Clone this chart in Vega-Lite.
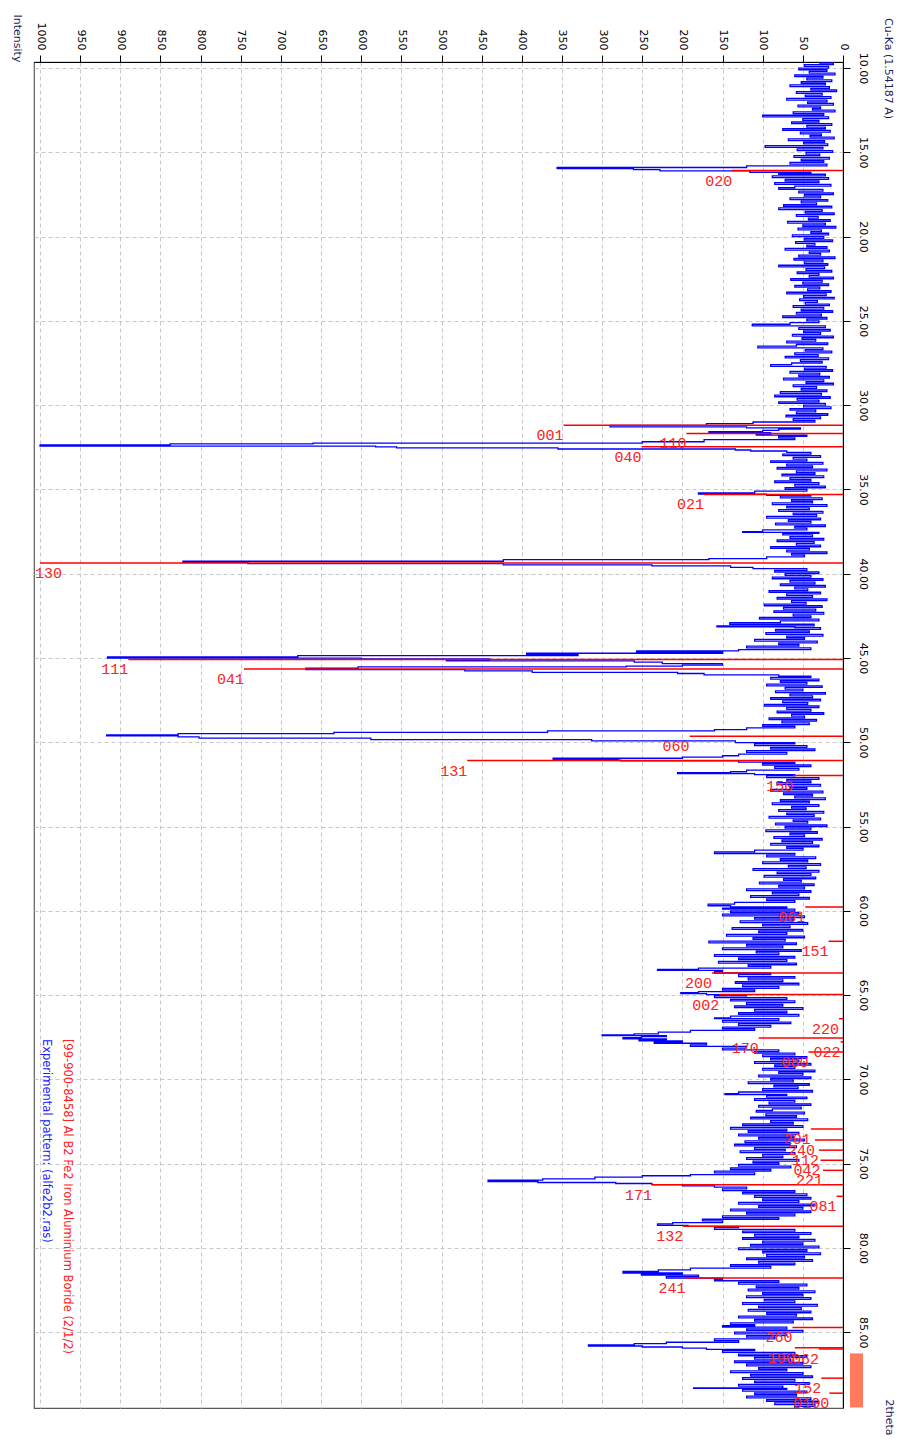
{
  "$schema": "https://vega.github.io/schema/vega-lite/v6.json",
  "width": 809,
  "height": 1346,
  "autosize": {"type": "none"},
  "padding": {"left": 34, "top": 62, "right": 57, "bottom": 31},
  "background": "white",
  "title": {
    "text": "Cu-Ka (1.54187 A)",
    "orient": "right",
    "anchor": "start",
    "angle": 90,
    "align": "left",
    "baseline": "middle",
    "font": "DejaVu Sans",
    "fontSize": 11,
    "fontWeight": "normal",
    "color": "#1c1c5c",
    "offset": 1,
    "dx": 4,
    "dy": 18
  },
  "config": {
    "view": {"stroke": "#5a5a5a", "strokeWidth": 1.2},
    "axis": {
      "labelFont": "DejaVu Sans",
      "labelFontSize": 11,
      "labelColor": "#000000",
      "tickColor": "#000000",
      "domainColor": "#000000",
      "tickSize": 7,
      "gridColor": "#c8c8c8",
      "gridDash": [4, 3],
      "gridWidth": 1,
      "titleFont": "DejaVu Sans",
      "titleFontSize": 11,
      "titleFontWeight": "normal",
      "titleColor": "#1c1c5c",
      "labelOverlap": false,
      "labelFlush": false
    }
  },
  "datasets": {
    "xrd": [
      {"t":9.7,"i":30},{"t":9.8,"i":12},{"t":9.9,"i":48},{"t":10.0,"i":18},{"t":10.1,"i":55},{"t":10.2,"i":20},{"t":10.3,"i":42},{"t":10.4,"i":10},{"t":10.5,"i":60},{"t":10.6,"i":25},
      {"t":10.7,"i":45},{"t":10.8,"i":14},{"t":10.9,"i":52},{"t":11.0,"i":22},{"t":11.1,"i":66},{"t":11.2,"i":17},{"t":11.3,"i":40},{"t":11.4,"i":8},{"t":11.5,"i":58},{"t":11.6,"i":26},
      {"t":11.7,"i":47},{"t":11.8,"i":15},{"t":11.9,"i":70},{"t":12.0,"i":20},{"t":12.1,"i":44},{"t":12.2,"i":12},{"t":12.3,"i":56},{"t":12.4,"i":28},{"t":12.5,"i":38},{"t":12.6,"i":10},
      {"t":12.7,"i":62},{"t":12.8,"i":24},{"t":12.9,"i":100},{"t":13.0,"i":18},{"t":13.1,"i":50},{"t":13.2,"i":30},{"t":13.3,"i":64},{"t":13.4,"i":14},{"t":13.5,"i":45},{"t":13.6,"i":22},
      {"t":13.7,"i":75},{"t":13.8,"i":16},{"t":13.9,"i":53},{"t":14.0,"i":27},{"t":14.1,"i":41},{"t":14.2,"i":11},{"t":14.3,"i":68},{"t":14.4,"i":23},{"t":14.5,"i":49},{"t":14.6,"i":19},
      {"t":14.7,"i":97},{"t":14.8,"i":25},{"t":14.9,"i":57},{"t":15.0,"i":13},{"t":15.1,"i":46},{"t":15.2,"i":29},{"t":15.3,"i":61},{"t":15.4,"i":17},{"t":15.5,"i":52},{"t":15.6,"i":24},
      {"t":15.7,"i":66},{"t":15.8,"i":20},{"t":15.9,"i":120},{"t":15.97,"i":356},{"t":16.03,"i":261},{"t":16.1,"i":228},{"t":16.18,"i":116},{"t":16.25,"i":40},{"t":16.3,"i":80},{"t":16.4,"i":22},
      {"t":16.5,"i":88},{"t":16.6,"i":18},{"t":16.7,"i":72},{"t":16.8,"i":30},{"t":16.9,"i":85},{"t":17.0,"i":15},{"t":17.1,"i":60},{"t":17.2,"i":80},{"t":17.3,"i":25},{"t":17.4,"i":55},
      {"t":17.5,"i":12},{"t":17.6,"i":48},{"t":17.7,"i":28},{"t":17.8,"i":66},{"t":17.9,"i":19},{"t":18.0,"i":52},{"t":18.1,"i":33},{"t":18.2,"i":74},{"t":18.3,"i":14},{"t":18.4,"i":80},
      {"t":18.5,"i":26},{"t":18.6,"i":47},{"t":18.7,"i":11},{"t":18.8,"i":58},{"t":18.9,"i":31},{"t":19.0,"i":43},{"t":19.1,"i":16},{"t":19.2,"i":69},{"t":19.3,"i":22},{"t":19.4,"i":50},
      {"t":19.5,"i":9},{"t":19.6,"i":56},{"t":19.7,"i":27},{"t":19.8,"i":40},{"t":19.9,"i":18},{"t":20.0,"i":63},{"t":20.1,"i":24},{"t":20.2,"i":48},{"t":20.3,"i":13},{"t":20.4,"i":59},
      {"t":20.5,"i":35},{"t":20.6,"i":45},{"t":20.7,"i":20},{"t":20.8,"i":72},{"t":20.9,"i":17},{"t":21.0,"i":42},{"t":21.1,"i":28},{"t":21.2,"i":55},{"t":21.3,"i":10},{"t":21.4,"i":61},
      {"t":21.5,"i":25},{"t":21.6,"i":48},{"t":21.7,"i":19},{"t":21.8,"i":80},{"t":21.9,"i":23},{"t":22.0,"i":46},{"t":22.1,"i":14},{"t":22.2,"i":57},{"t":22.3,"i":30},{"t":22.4,"i":42},
      {"t":22.5,"i":12},{"t":22.6,"i":65},{"t":22.7,"i":26},{"t":22.8,"i":50},{"t":22.9,"i":18},{"t":23.0,"i":60},{"t":23.1,"i":29},{"t":23.2,"i":44},{"t":23.3,"i":15},{"t":23.4,"i":70},
      {"t":23.5,"i":21},{"t":23.6,"i":49},{"t":23.7,"i":11},{"t":23.8,"i":54},{"t":23.9,"i":32},{"t":24.0,"i":47},{"t":24.1,"i":17},{"t":24.2,"i":62},{"t":24.3,"i":24},{"t":24.4,"i":52},
      {"t":24.5,"i":13},{"t":24.6,"i":58},{"t":24.7,"i":27},{"t":24.8,"i":75},{"t":24.9,"i":20},{"t":25.0,"i":45},{"t":25.1,"i":30},{"t":25.2,"i":66},{"t":25.3,"i":113},{"t":25.4,"i":22},
      {"t":25.5,"i":55},{"t":25.6,"i":16},{"t":25.7,"i":49},{"t":25.8,"i":28},{"t":25.9,"i":63},{"t":26.0,"i":12},{"t":26.1,"i":51},{"t":26.2,"i":34},{"t":26.3,"i":70},{"t":26.4,"i":19},
      {"t":26.5,"i":58},{"t":26.6,"i":106},{"t":26.7,"i":25},{"t":26.8,"i":47},{"t":26.9,"i":14},{"t":27.0,"i":60},{"t":27.1,"i":31},{"t":27.2,"i":72},{"t":27.3,"i":18},{"t":27.4,"i":53},
      {"t":27.5,"i":26},{"t":27.6,"i":64},{"t":27.7,"i":90},{"t":27.8,"i":21},{"t":27.9,"i":48},{"t":28.0,"i":13},{"t":28.1,"i":66},{"t":28.2,"i":29},{"t":28.3,"i":55},{"t":28.4,"i":17},
      {"t":28.5,"i":74},{"t":28.6,"i":24},{"t":28.7,"i":46},{"t":28.8,"i":12},{"t":28.9,"i":62},{"t":29.0,"i":33},{"t":29.1,"i":52},{"t":29.2,"i":20},{"t":29.3,"i":78},{"t":29.4,"i":27},
      {"t":29.5,"i":85},{"t":29.6,"i":16},{"t":29.7,"i":57},{"t":29.8,"i":30},{"t":29.9,"i":80},{"t":30.0,"i":22},{"t":30.1,"i":49},{"t":30.2,"i":15},{"t":30.3,"i":66},{"t":30.4,"i":34},
      {"t":30.5,"i":58},{"t":30.6,"i":19},{"t":30.7,"i":71},{"t":30.8,"i":28},{"t":30.9,"i":62},{"t":31.0,"i":35},{"t":31.1,"i":112},{"t":31.2,"i":170},{"t":31.29,"i":290},{"t":31.35,"i":120},
      {"t":31.42,"i":53},{"t":31.5,"i":80},{"t":31.57,"i":100},{"t":31.63,"i":167},{"t":31.7,"i":90},{"t":31.78,"i":108},{"t":31.85,"i":45},{"t":31.95,"i":80},{"t":32.05,"i":60},{"t":32.17,"i":173},
      {"t":32.25,"i":250},{"t":32.3,"i":660},{"t":32.36,"i":838},{"t":32.43,"i":1000},{"t":32.48,"i":582},{"t":32.53,"i":556},{"t":32.6,"i":355},{"t":32.66,"i":134},{"t":32.72,"i":115},{"t":32.8,"i":70},
      {"t":32.9,"i":40},{"t":33.0,"i":75},{"t":33.1,"i":28},{"t":33.2,"i":62},{"t":33.3,"i":45},{"t":33.4,"i":90},{"t":33.5,"i":25},{"t":33.6,"i":70},{"t":33.7,"i":38},{"t":33.8,"i":82},
      {"t":33.9,"i":20},{"t":34.0,"i":58},{"t":34.1,"i":35},{"t":34.2,"i":76},{"t":34.3,"i":24},{"t":34.4,"i":66},{"t":34.5,"i":40},{"t":34.6,"i":85},{"t":34.7,"i":30},{"t":34.8,"i":60},
      {"t":34.9,"i":22},{"t":35.0,"i":72},{"t":35.1,"i":45},{"t":35.2,"i":110},{"t":35.28,"i":180},{"t":35.35,"i":95},{"t":35.4,"i":40},{"t":35.5,"i":78},{"t":35.6,"i":26},{"t":35.7,"i":64},
      {"t":35.8,"i":38},{"t":35.9,"i":88},{"t":36.0,"i":20},{"t":36.1,"i":70},{"t":36.2,"i":42},{"t":36.3,"i":80},{"t":36.4,"i":25},{"t":36.5,"i":62},{"t":36.6,"i":33},{"t":36.7,"i":95},
      {"t":36.8,"i":28},{"t":36.9,"i":68},{"t":37.0,"i":40},{"t":37.1,"i":84},{"t":37.2,"i":22},{"t":37.3,"i":60},{"t":37.4,"i":45},{"t":37.5,"i":100},{"t":37.55,"i":125},{"t":37.6,"i":30},
      {"t":37.7,"i":75},{"t":37.8,"i":38},{"t":37.9,"i":66},{"t":38.0,"i":24},{"t":38.1,"i":82},{"t":38.2,"i":36},{"t":38.3,"i":58},{"t":38.4,"i":28},{"t":38.5,"i":90},{"t":38.6,"i":42},
      {"t":38.7,"i":70},{"t":38.8,"i":20},{"t":38.9,"i":64},{"t":39.0,"i":48},{"t":39.1,"i":95},{"t":39.16,"i":167},{"t":39.26,"i":423},{"t":39.32,"i":822},{"t":39.4,"i":741},{"t":39.48,"i":423},
      {"t":39.54,"i":238},{"t":39.62,"i":140},{"t":39.7,"i":112},{"t":39.8,"i":45},{"t":39.9,"i":85},{"t":40.0,"i":30},{"t":40.1,"i":72},{"t":40.2,"i":40},{"t":40.3,"i":88},{"t":40.4,"i":25},
      {"t":40.5,"i":66},{"t":40.6,"i":35},{"t":40.7,"i":78},{"t":40.8,"i":22},{"t":40.9,"i":60},{"t":41.0,"i":44},{"t":41.1,"i":92},{"t":41.2,"i":28},{"t":41.3,"i":70},{"t":41.4,"i":38},
      {"t":41.5,"i":82},{"t":41.6,"i":20},{"t":41.7,"i":64},{"t":41.8,"i":46},{"t":41.9,"i":98},{"t":42.0,"i":26},{"t":42.1,"i":74},{"t":42.2,"i":34},{"t":42.3,"i":86},{"t":42.4,"i":24},
      {"t":42.5,"i":62},{"t":42.6,"i":40},{"t":42.7,"i":104},{"t":42.8,"i":30},{"t":42.9,"i":78},{"t":43.0,"i":141},{"t":43.1,"i":36},{"t":43.15,"i":157},{"t":43.2,"i":60},{"t":43.3,"i":28},
      {"t":43.4,"i":84},{"t":43.5,"i":42},{"t":43.6,"i":96},{"t":43.7,"i":25},{"t":43.8,"i":70},{"t":43.9,"i":48},{"t":44.0,"i":110},{"t":44.1,"i":32},{"t":44.2,"i":80},{"t":44.3,"i":55},
      {"t":44.4,"i":120},{"t":44.5,"i":40},{"t":44.58,"i":130},{"t":44.66,"i":257},{"t":44.72,"i":150},{"t":44.78,"i":394},{"t":44.86,"i":330},{"t":44.94,"i":679},{"t":45.01,"i":916},{"t":45.06,"i":600},
      {"t":45.1,"i":440},{"t":45.17,"i":494},{"t":45.25,"i":260},{"t":45.33,"i":225},{"t":45.42,"i":150},{"t":45.48,"i":200},{"t":45.53,"i":270},{"t":45.61,"i":604},{"t":45.69,"i":669},{"t":45.77,"i":471},
      {"t":45.85,"i":387},{"t":45.92,"i":206},{"t":46.0,"i":173},{"t":46.08,"i":80},{"t":46.15,"i":40},{"t":46.25,"i":90},{"t":46.35,"i":30},{"t":46.45,"i":78},{"t":46.55,"i":45},{"t":46.65,"i":95},
      {"t":46.75,"i":26},{"t":46.85,"i":72},{"t":46.95,"i":50},{"t":47.05,"i":84},{"t":47.15,"i":22},{"t":47.25,"i":66},{"t":47.35,"i":38},{"t":47.45,"i":90},{"t":47.55,"i":28},{"t":47.65,"i":75},
      {"t":47.75,"i":44},{"t":47.85,"i":98},{"t":47.95,"i":30},{"t":48.05,"i":70},{"t":48.15,"i":40},{"t":48.25,"i":82},{"t":48.35,"i":24},{"t":48.45,"i":64},{"t":48.55,"i":48},{"t":48.65,"i":92},
      {"t":48.75,"i":33},{"t":48.85,"i":76},{"t":48.95,"i":42},{"t":49.05,"i":100},{"t":49.15,"i":60},{"t":49.25,"i":120},{"t":49.32,"i":160},{"t":49.41,"i":368},{"t":49.49,"i":634},{"t":49.56,"i":828},
      {"t":49.62,"i":917},{"t":49.68,"i":828},{"t":49.76,"i":802},{"t":49.84,"i":588},{"t":49.92,"i":313},{"t":50.02,"i":134},{"t":50.1,"i":60},{"t":50.2,"i":110},{"t":50.3,"i":45},{"t":50.4,"i":90},
      {"t":50.5,"i":35},{"t":50.6,"i":120},{"t":50.7,"i":70},{"t":50.8,"i":130},{"t":50.88,"i":150},{"t":50.95,"i":200},{"t":51.01,"i":361},{"t":51.06,"i":280},{"t":51.11,"i":277},{"t":51.18,"i":130},
      {"t":51.25,"i":60},{"t":51.35,"i":100},{"t":51.45,"i":40},{"t":51.55,"i":85},{"t":51.65,"i":55},{"t":51.75,"i":120},{"t":51.81,"i":140},{"t":51.86,"i":206},{"t":51.92,"i":110},{"t":52.0,"i":60},
      {"t":52.1,"i":95},{"t":52.2,"i":30},{"t":52.3,"i":70},{"t":52.4,"i":40},{"t":52.5,"i":82},{"t":52.6,"i":28},{"t":52.7,"i":66},{"t":52.8,"i":45},{"t":52.9,"i":90},{"t":53.0,"i":25},
      {"t":53.1,"i":74},{"t":53.2,"i":38},{"t":53.3,"i":60},{"t":53.4,"i":22},{"t":53.5,"i":78},{"t":53.6,"i":42},{"t":53.7,"i":88},{"t":53.8,"i":30},{"t":53.9,"i":64},{"t":54.0,"i":46},
      {"t":54.1,"i":80},{"t":54.2,"i":24},{"t":54.3,"i":70},{"t":54.4,"i":36},{"t":54.5,"i":92},{"t":54.6,"i":28},{"t":54.7,"i":62},{"t":54.8,"i":44},{"t":54.9,"i":84},{"t":55.0,"i":20},
      {"t":55.1,"i":72},{"t":55.2,"i":40},{"t":55.3,"i":96},{"t":55.4,"i":32},{"t":55.5,"i":66},{"t":55.6,"i":48},{"t":55.7,"i":86},{"t":55.8,"i":26},{"t":55.9,"i":76},{"t":56.0,"i":38},
      {"t":56.1,"i":90},{"t":56.2,"i":30},{"t":56.3,"i":70},{"t":56.4,"i":50},{"t":56.5,"i":110},{"t":56.6,"i":160},{"t":56.7,"i":60},{"t":56.8,"i":95},{"t":56.9,"i":34},{"t":57.0,"i":78},
      {"t":57.1,"i":44},{"t":57.2,"i":100},{"t":57.3,"i":28},{"t":57.4,"i":68},{"t":57.5,"i":46},{"t":57.6,"i":112},{"t":57.7,"i":30},{"t":57.8,"i":82},{"t":57.9,"i":40},{"t":58.0,"i":98},
      {"t":58.1,"i":34},{"t":58.2,"i":74},{"t":58.3,"i":52},{"t":58.4,"i":104},{"t":58.5,"i":36},{"t":58.6,"i":80},{"t":58.7,"i":48},{"t":58.8,"i":120},{"t":58.9,"i":40},{"t":59.0,"i":88},
      {"t":59.1,"i":55},{"t":59.2,"i":115},{"t":59.3,"i":42},{"t":59.4,"i":95},{"t":59.5,"i":60},{"t":59.6,"i":135},{"t":59.7,"i":168},{"t":59.77,"i":140},{"t":59.85,"i":70},{"t":59.9,"i":150},
      {"t":60.0,"i":60},{"t":60.1,"i":140},{"t":60.2,"i":55},{"t":60.3,"i":150},{"t":60.4,"i":48},{"t":60.5,"i":110},{"t":60.6,"i":62},{"t":60.7,"i":128},{"t":60.8,"i":44},{"t":60.9,"i":100},
      {"t":61.0,"i":66},{"t":61.1,"i":138},{"t":61.2,"i":50},{"t":61.3,"i":105},{"t":61.4,"i":70},{"t":61.5,"i":145},{"t":61.6,"i":48},{"t":61.7,"i":112},{"t":61.8,"i":72},{"t":61.9,"i":167},
      {"t":62.0,"i":58},{"t":62.1,"i":120},{"t":62.2,"i":75},{"t":62.3,"i":150},{"t":62.4,"i":52},{"t":62.5,"i":108},{"t":62.6,"i":80},{"t":62.7,"i":160},{"t":62.8,"i":60},{"t":62.9,"i":130},
      {"t":63.0,"i":70},{"t":63.1,"i":155},{"t":63.2,"i":58},{"t":63.3,"i":118},{"t":63.4,"i":90},{"t":63.47,"i":180},{"t":63.53,"i":231},{"t":63.6,"i":150},{"t":63.69,"i":160},{"t":63.78,"i":90},
      {"t":63.9,"i":130},{"t":64.0,"i":60},{"t":64.1,"i":118},{"t":64.2,"i":75},{"t":64.3,"i":134},{"t":64.4,"i":55},{"t":64.5,"i":125},{"t":64.6,"i":80},{"t":64.7,"i":150},{"t":64.8,"i":110},
      {"t":64.86,"i":180},{"t":64.91,"i":202},{"t":64.97,"i":170},{"t":65.05,"i":120},{"t":65.15,"i":160},{"t":65.25,"i":70},{"t":65.35,"i":140},{"t":65.45,"i":60},{"t":65.55,"i":120},{"t":65.65,"i":75},
      {"t":65.75,"i":135},{"t":65.85,"i":50},{"t":65.95,"i":110},{"t":66.05,"i":70},{"t":66.15,"i":130},{"t":66.25,"i":55},{"t":66.35,"i":140},{"t":66.4,"i":160},{"t":66.5,"i":80},{"t":66.6,"i":150},
      {"t":66.7,"i":65},{"t":66.8,"i":130},{"t":66.9,"i":90},{"t":67.0,"i":150},{"t":67.1,"i":110},{"t":67.2,"i":190},{"t":67.3,"i":230},{"t":67.36,"i":260},{"t":67.41,"i":300},{"t":67.47,"i":220},
      {"t":67.53,"i":251},{"t":67.6,"i":274},{"t":67.66,"i":220},{"t":67.72,"i":254},{"t":67.8,"i":200},{"t":67.86,"i":235},{"t":67.95,"i":170},{"t":68.05,"i":190},{"t":68.15,"i":120},{"t":68.25,"i":150},
      {"t":68.35,"i":80},{"t":68.45,"i":110},{"t":68.55,"i":60},{"t":68.65,"i":100},{"t":68.75,"i":45},{"t":68.85,"i":90},{"t":68.95,"i":55},{"t":69.05,"i":110},{"t":69.15,"i":40},{"t":69.25,"i":85},
      {"t":69.35,"i":60},{"t":69.45,"i":100},{"t":69.55,"i":35},{"t":69.65,"i":80},{"t":69.75,"i":50},{"t":69.85,"i":105},{"t":69.95,"i":40},{"t":70.05,"i":90},{"t":70.15,"i":62},{"t":70.25,"i":118},
      {"t":70.35,"i":42},{"t":70.45,"i":86},{"t":70.55,"i":56},{"t":70.65,"i":100},{"t":70.75,"i":38},{"t":70.85,"i":130},{"t":70.9,"i":147},{"t":70.95,"i":70},{"t":71.05,"i":95},{"t":71.15,"i":45},
      {"t":71.25,"i":110},{"t":71.35,"i":60},{"t":71.45,"i":92},{"t":71.55,"i":40},{"t":71.65,"i":105},{"t":71.75,"i":52},{"t":71.85,"i":88},{"t":71.95,"i":108},{"t":72.05,"i":48},{"t":72.15,"i":96},
      {"t":72.25,"i":58},{"t":72.35,"i":115},{"t":72.45,"i":44},{"t":72.55,"i":90},{"t":72.65,"i":62},{"t":72.75,"i":125},{"t":72.85,"i":50},{"t":72.95,"i":140},{"t":73.05,"i":70},{"t":73.15,"i":118},
      {"t":73.25,"i":55},{"t":73.35,"i":130},{"t":73.45,"i":62},{"t":73.55,"i":105},{"t":73.65,"i":48},{"t":73.75,"i":122},{"t":73.85,"i":66},{"t":73.95,"i":135},{"t":74.05,"i":58},{"t":74.15,"i":110},
      {"t":74.25,"i":72},{"t":74.35,"i":128},{"t":74.45,"i":60},{"t":74.55,"i":100},{"t":74.65,"i":75},{"t":74.75,"i":120},{"t":74.85,"i":55},{"t":74.95,"i":112},{"t":75.05,"i":80},{"t":75.15,"i":130},
      {"t":75.25,"i":65},{"t":75.35,"i":140},{"t":75.45,"i":90},{"t":75.55,"i":160},{"t":75.65,"i":110},{"t":75.72,"i":190},{"t":75.8,"i":250},{"t":75.9,"i":309},{"t":75.98,"i":374},{"t":76.06,"i":442},
      {"t":76.12,"i":380},{"t":76.18,"i":283},{"t":76.25,"i":238},{"t":76.32,"i":200},{"t":76.4,"i":160},{"t":76.5,"i":120},{"t":76.6,"i":150},{"t":76.7,"i":60},{"t":76.8,"i":125},{"t":76.9,"i":45},
      {"t":77.0,"i":110},{"t":77.1,"i":40},{"t":77.2,"i":100},{"t":77.3,"i":55},{"t":77.4,"i":130},{"t":77.5,"i":35},{"t":77.6,"i":105},{"t":77.7,"i":50},{"t":77.8,"i":140},{"t":77.9,"i":40},
      {"t":78.0,"i":120},{"t":78.1,"i":60},{"t":78.2,"i":150},{"t":78.3,"i":80},{"t":78.4,"i":175},{"t":78.5,"i":150},{"t":78.57,"i":212},{"t":78.66,"i":231},{"t":78.72,"i":193},{"t":78.8,"i":130},
      {"t":78.9,"i":160},{"t":79.0,"i":60},{"t":79.1,"i":125},{"t":79.2,"i":40},{"t":79.3,"i":110},{"t":79.4,"i":55},{"t":79.5,"i":125},{"t":79.6,"i":35},{"t":79.7,"i":100},{"t":79.8,"i":50},
      {"t":79.9,"i":115},{"t":80.0,"i":30},{"t":80.1,"i":130},{"t":80.2,"i":45},{"t":80.3,"i":100},{"t":80.4,"i":28},{"t":80.5,"i":95},{"t":80.6,"i":48},{"t":80.7,"i":120},{"t":80.8,"i":38},
      {"t":80.9,"i":105},{"t":81.0,"i":60},{"t":81.1,"i":140},{"t":81.2,"i":90},{"t":81.3,"i":190},{"t":81.4,"i":230},{"t":81.49,"i":274},{"t":81.56,"i":200},{"t":81.62,"i":251},{"t":81.7,"i":180},
      {"t":81.79,"i":220},{"t":81.87,"i":150},{"t":81.95,"i":160},{"t":82.05,"i":80},{"t":82.15,"i":130},{"t":82.25,"i":45},{"t":82.35,"i":108},{"t":82.45,"i":55},{"t":82.55,"i":118},{"t":82.65,"i":35},
      {"t":82.75,"i":100},{"t":82.85,"i":50},{"t":82.95,"i":120},{"t":83.05,"i":40},{"t":83.15,"i":98},{"t":83.25,"i":60},{"t":83.35,"i":125},{"t":83.45,"i":32},{"t":83.55,"i":105},{"t":83.65,"i":52},
      {"t":83.75,"i":118},{"t":83.85,"i":40},{"t":83.95,"i":95},{"t":84.05,"i":58},{"t":84.15,"i":130},{"t":84.25,"i":38},{"t":84.35,"i":110},{"t":84.45,"i":62},{"t":84.55,"i":140},{"t":84.62,"i":110},
      {"t":84.7,"i":150},{"t":84.8,"i":70},{"t":84.9,"i":120},{"t":85.0,"i":50},{"t":85.1,"i":135},{"t":85.2,"i":70},{"t":85.3,"i":120},{"t":85.4,"i":85},{"t":85.5,"i":160},{"t":85.6,"i":130},
      {"t":85.68,"i":220},{"t":85.75,"i":260},{"t":85.82,"i":317},{"t":85.88,"i":250},{"t":85.95,"i":200},{"t":86.02,"i":170},{"t":86.1,"i":110},{"t":86.2,"i":150},{"t":86.3,"i":60},{"t":86.4,"i":130},
      {"t":86.5,"i":45},{"t":86.6,"i":110},{"t":86.7,"i":65},{"t":86.8,"i":135},{"t":86.9,"i":50},{"t":87.0,"i":120},{"t":87.1,"i":40},{"t":87.2,"i":105},{"t":87.3,"i":70},{"t":87.4,"i":140},
      {"t":87.5,"i":50},{"t":87.6,"i":115},{"t":87.7,"i":38},{"t":87.8,"i":125},{"t":87.9,"i":60},{"t":88.0,"i":110},{"t":88.1,"i":42},{"t":88.2,"i":130},{"t":88.3,"i":75},{"t":88.34,"i":186},
      {"t":88.4,"i":70},{"t":88.5,"i":125},{"t":88.6,"i":45},{"t":88.7,"i":110},{"t":88.8,"i":58},{"t":88.9,"i":120},{"t":89.0,"i":40},{"t":89.1,"i":95},{"t":89.2,"i":30},{"t":89.3,"i":85},
      {"t":89.4,"i":35},{"t":89.5,"i":60}
    ],
    "ref": [
      {"h":"020","t":16.08,"i":138},
      {"h":"001","t":31.19,"i":348},
      {"h":"110","t":31.68,"i":195},
      {"h":"040","t":32.47,"i":251},
      {"h":"021","t":35.30,"i":173},
      {"h":"130","t":39.36,"i":1000},
      {"h":"111","t":45.09,"i":890},
      {"h":"041","t":45.65,"i":746},
      {"h":"060","t":49.64,"i":191},
      {"h":"131","t":51.09,"i":468},
      {"h":"150","t":51.98,"i":62},
      {"h":"061","t":59.77,"i":47},
      {"h":"151","t":61.81,"i":18},
      {"h":"200","t":63.69,"i":163},
      {"h":"002","t":64.97,"i":154},
      {"h":"220","t":66.40,"i":5},
      {"h":"170","t":67.55,"i":105},
      {"h":"022","t":67.78,"i":3},
      {"h":"080","t":68.38,"i":43},
      {"h":"201","t":72.95,"i":40},
      {"h":"240","t":73.60,"i":35},
      {"h":"112","t":74.20,"i":30},
      {"h":"042","t":74.80,"i":28},
      {"h":"221","t":75.40,"i":25},
      {"h":"171","t":76.25,"i":238},
      {"h":"081","t":76.94,"i":8},
      {"h":"132","t":78.71,"i":199},
      {"h":"241","t":81.79,"i":196},
      {"h":"260","t":84.72,"i":63},
      {"h":"190","t":85.93,"i":60},
      {"h":"062","t":86.00,"i":30},
      {"h":"152","t":87.73,"i":27},
      {"h":"0100","t":88.62,"i":17}
    ],
    "legend": [
      {"series":"exp","label":"Experimental pattern: (alfe2b2.ras)"},
      {"series":"ref","label":"[99-900-8458] Al B2 Fe2 Iron Aluminium Boride (2/1/2)"}
    ],
    "marker": [
      {"t1":86.26,"t2":89.47}
    ]
  },
  "layer": [
    {
      "data": {"name": "xrd"},
      "mark": {"type": "line", "color": "#0000ff", "strokeWidth": 1.3, "interpolate": "step-after", "clip": true},
      "encoding": {
        "x": {
          "field": "i",
          "type": "quantitative",
          "scale": {"domain": [0, 1007.5], "reverse": true, "nice": false, "zero": false},
          "axis": {
            "orient": "top",
            "values": [0,50,100,150,200,250,300,350,400,450,500,550,600,650,700,750,800,850,900,950,1000],
            "format": "d",
            "labelAngle": 90,
            "labelAlign": "right",
            "labelBaseline": "middle",
            "labelPadding": 5,
            "grid": true,
            "title": "Intensity",
            "titleAngle": 90,
            "titleX": -18,
            "titleY": -24,
            "titleAlign": "center",
            "titleBaseline": "middle"
          }
        },
        "y": {
          "field": "t",
          "type": "quantitative",
          "scale": {"domain": [9.64, 89.5], "reverse": true, "nice": false, "zero": false},
          "axis": {
            "orient": "right",
            "values": [10,15,20,25,30,35,40,45,50,55,60,65,70,75,80,85],
            "format": ".2f",
            "labelAngle": 90,
            "labelAlign": "center",
            "labelBaseline": "middle",
            "labelPadding": 12,
            "grid": true,
            "title": "2theta",
            "titleAngle": 90,
            "titleX": 45,
            "titleY": 1355,
            "titleAlign": "center",
            "titleBaseline": "middle"
          }
        },
        "order": {"field": "t", "type": "quantitative"}
      }
    },
    {
      "data": {"name": "ref"},
      "mark": {"type": "rule", "color": "#ff0000", "strokeWidth": 1.5},
      "encoding": {
        "x": {"field": "i", "type": "quantitative"},
        "x2": {"datum": 0},
        "y": {"field": "t", "type": "quantitative"}
      }
    },
    {
      "data": {"name": "ref"},
      "transform": [{"filter": "datum.h !== '130'"}],
      "mark": {"type": "text", "color": "#ff2020", "font": "Liberation Mono", "fontSize": 15, "align": "right", "baseline": "top", "dy": 3},
      "encoding": {
        "x": {"field": "i", "type": "quantitative"},
        "y": {"field": "t", "type": "quantitative"},
        "text": {"field": "h"}
      }
    },
    {
      "data": {"name": "ref"},
      "transform": [{"filter": "datum.h === '130'"}],
      "mark": {"type": "text", "color": "#ff2020", "font": "Liberation Mono", "fontSize": 15, "align": "left", "baseline": "top", "dy": 3, "dx": -5},
      "encoding": {
        "x": {"field": "i", "type": "quantitative"},
        "y": {"field": "t", "type": "quantitative"},
        "text": {"field": "h"}
      }
    },
    {
      "data": {"name": "legend"},
      "transform": [{"filter": "datum.series === 'exp'"}],
      "mark": {"type": "text", "angle": 90, "align": "left", "baseline": "middle", "color": "#2020ff", "font": "DejaVu Sans", "fontSize": 11.5},
      "encoding": {
        "x": {"datum": 992},
        "y": {"datum": 67.6},
        "text": {"field": "label"}
      }
    },
    {
      "data": {"name": "legend"},
      "transform": [{"filter": "datum.series === 'ref'"}],
      "mark": {"type": "text", "angle": 90, "align": "left", "baseline": "middle", "color": "#ff2020", "font": "DejaVu Sans", "fontSize": 11.5},
      "encoding": {
        "x": {"datum": 967},
        "y": {"datum": 67.6},
        "text": {"field": "label"}
      }
    },
    {
      "data": {"name": "marker"},
      "mark": {"type": "rect", "color": "#ff7b5c", "opacity": 1},
      "encoding": {
        "x": {"datum": -8.7},
        "x2": {"datum": -24.9},
        "y": {"field": "t1", "type": "quantitative"},
        "y2": {"field": "t2"}
      }
    }
  ]
}
